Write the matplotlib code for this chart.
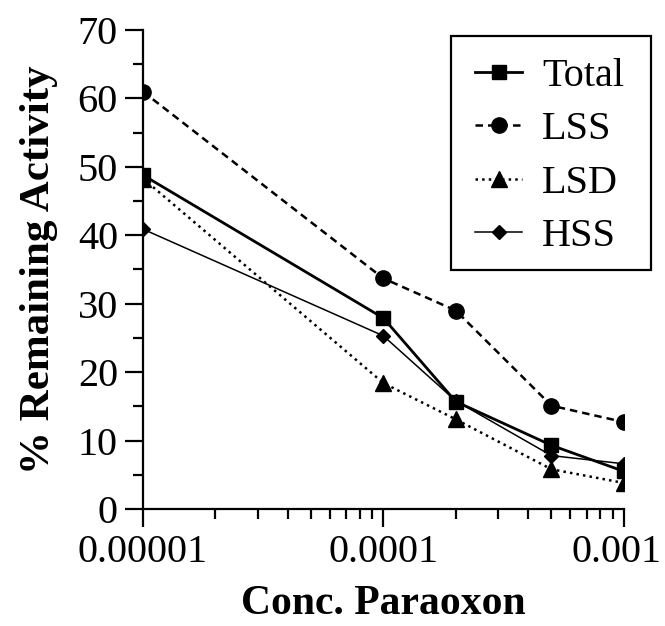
import matplotlib
matplotlib.use("Agg")
import matplotlib.pyplot as plt
from matplotlib.patches import Rectangle
from matplotlib.transforms import ScaledTranslation
from matplotlib.ticker import FixedLocator, FixedFormatter, LogLocator, NullFormatter

# paraoxon concentration (M)
conc = [1e-5, 1e-4, 2e-4, 5e-4, 1e-3]

total = [48.8, 27.9, 15.7, 9.3, 5.5]
lss = [61.0, 33.7, 29.0, 15.1, 12.7]
lsd = [48.3, 18.4, 13.1, 5.8, 3.8]
hss = [40.9, 25.3, 15.8, 7.8, 6.6]

x_ticks = [1e-5, 1e-4, 1e-3]
x_labels = ["0.00001", "0.0001", "0.001"]

plt.rcParams['font.family'] = ['Liberation Serif', 'DejaVu Serif']

fig = plt.figure(figsize=(6.65, 6.26), dpi=100)
ax = fig.add_axes([0.215, 0.187, 0.723, 0.765])

ax.plot(conc, total, '-', color='black', lw=2.0, marker='s', ms=9.5, label='Total')
ax.plot(conc, lss, '--', color='black', lw=1.8, marker='o', ms=11, dashes=(3, 2), label='LSS')
ax.plot(conc, lsd, ':', color='black', lw=1.8, marker='^', ms=11, label='LSD')
ax.plot(conc, hss, '-', color='black', lw=1.1, marker='D', ms=7, label='HSS')

ax.set_xscale('log')
ax.set_xlim(1e-5, 1e-3)
ax.set_ylim(0, 70)
ax.xaxis.set_major_locator(FixedLocator(x_ticks))
ax.xaxis.set_major_formatter(FixedFormatter(x_labels))
ax.xaxis.set_minor_locator(LogLocator(base=10, subs=range(2, 10)))
ax.xaxis.set_minor_formatter(NullFormatter())
ax.set_yticks(range(0, 71, 10))
ax.set_yticks(range(5, 70, 10), minor=True)

for s in ['top', 'right']:
    ax.spines[s].set_visible(False)
for s in ['left', 'bottom']:
    ax.spines[s].set_linewidth(1.6)

ax.tick_params(which='major', direction='out', length=13, width=1.6, labelsize=29, pad=5)
ax.tick_params(which='minor', direction='out', length=7, width=1.6)

ax.set_xlabel('Conc. Paraoxon', fontsize=30, fontweight='bold', labelpad=10)
ax.set_ylabel('% Remaining Activity', fontsize=31, fontweight='bold', labelpad=14)

# last x label sits right at the figure edge, nudge it in
fig.canvas.draw()
last = ax.get_xticklabels()[-1]
last.set_transform(last.get_transform() + ScaledTranslation(-7 / 100, 0, fig.dpi_scale_trans))

leg = ax.legend(loc='upper left', bbox_to_anchor=(475 / 665, 1 - 58 / 626), bbox_transform=fig.transFigure,
                fontsize=29, frameon=False, handlelength=1.17, handletextpad=0.5,
                labelspacing=0.4, borderpad=0, borderaxespad=0)

fig.patches.append(Rectangle((451 / 665, 1 - 270 / 626), 200 / 665, 234 / 626, transform=fig.transFigure,
                             fill=False, edgecolor='black', linewidth=1.6))

fig.savefig('out.png', dpi=100)
